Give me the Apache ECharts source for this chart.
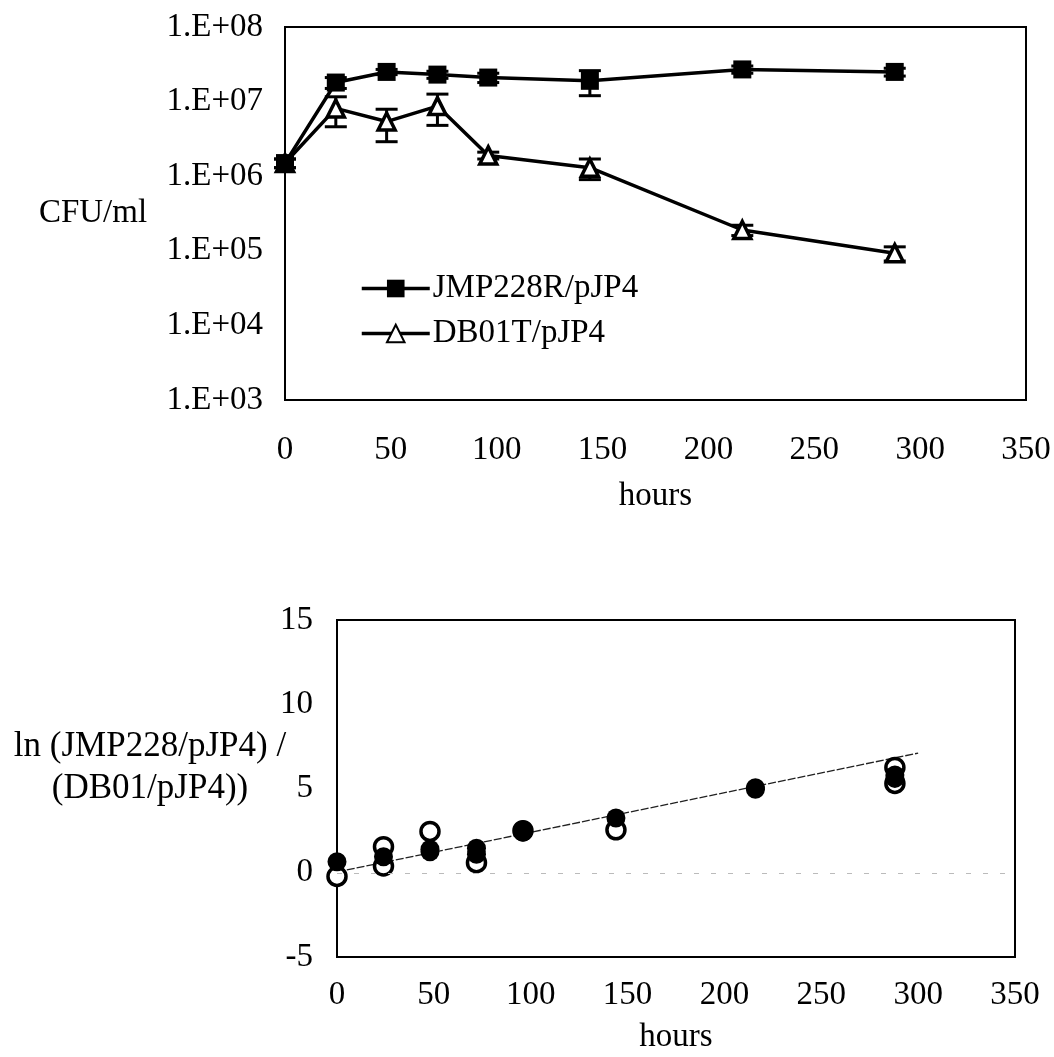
<!DOCTYPE html>
<html>
<head>
<meta charset="utf-8">
<script src="https://cdn.jsdelivr.net/npm/echarts@6/dist/echarts.min.js"></script>
<style>
body{margin:0;background:#fff;}
#content_main{width:1054px;height:1057px;}
</style>
</head>
<body>
<div id="content_main"></div>
<script type="text/javascript">
// top panel: CFU/ml over time
var hours = [0, 24, 48, 72, 96, 144, 216, 288];
var jmpMean = [1.5e6, 1.8e7, 2.5e7, 2.3e7, 2.1e7, 1.9e7, 2.7e7, 2.5e7];
var jmpSd = [2e5, 3e6, 2e6, 2.5e6, 3e6, 7e6, 3e6, 3e6];
var dbMean = [1.5e6, 8.1e6, 5.4e6, 8.7e6, 1.9e6, 1.3e6, 1.9e5, 9.3e4];
var dbSd = [2e5, 3.5e6, 2.5e6, 3.9e6, 2e5, 4e5, 3e4, 2e4];
var seriesNames = ['JMP228R/pJP4', 'DB01T/pJP4'];
var logTickLabels = ['1.E+03', '1.E+04', '1.E+05', '1.E+06', '1.E+07', '1.E+08'];

// bottom panel: ln ratio, two replicate sets
var filledPts = [[0, 0.65], [24, 0.95], [48, 1.25], [48, 1.4], [72, 1.1], [72, 1.45], [96, 2.4], [96, 2.55], [144, 3.25], [216, 4.95], [216, 5.05], [288, 5.6], [288, 5.8]];
var openPts = [[0, -0.22], [24, 0.4], [24, 1.55], [48, 2.45], [72, 0.6], [96, 2.5], [144, 2.55], [288, 5.3], [288, 6.25]];
var trendPts = [[0, 0.05], [300, 7.1]];

var font = 'Liberation Serif';
var txt = {fontFamily: font, fontSize: 33, color: '#000'};

function pairs(xs, ys) {
	return xs.map(function (x, i) { return [x, ys[i]]; });
}
function errData(xs, m, sd) {
	return xs.map(function (x, i) { return [x, m[i] - sd[i], m[i] + sd[i]]; });
}
function errRender(params, api) {
	var lo = api.coord([api.value(0), api.value(1)]);
	var hi = api.coord([api.value(0), api.value(2)]);
	var w = 11, st = {stroke: '#000', lineWidth: 3};
	return {type: 'group', children: [
		{type: 'line', shape: {x1: lo[0], y1: lo[1], x2: hi[0], y2: hi[1]}, style: st},
		{type: 'line', shape: {x1: lo[0] - w, y1: lo[1], x2: lo[0] + w, y2: lo[1]}, style: st},
		{type: 'line', shape: {x1: hi[0] - w, y1: hi[1], x2: hi[0] + w, y2: hi[1]}, style: st}
	]};
}

var myChart = echarts.init(document.getElementById('content_main'));
var option = {
	backgroundColor: '#fff',
	animation: false,
	textStyle: {fontFamily: font},
	legend: {
		data: seriesNames,
		orient: 'vertical',
		left: 360,
		top: 272,
		itemWidth: 68,
		itemHeight: 22,
		itemGap: 12,
		padding: 0,
		lineStyle: {width: 3.5, color: '#000'},
		textStyle: {fontFamily: font, fontSize: 33, color: '#000', padding: [0, 0, 0, -2]}
	},
	grid: [
		{left: 285, top: 27, width: 741, height: 373, show: true, borderColor: '#000', borderWidth: 2, backgroundColor: 'transparent'},
		{left: 337, top: 620, width: 678, height: 337, show: true, borderColor: '#000', borderWidth: 2, backgroundColor: 'transparent'}
	],
	xAxis: [
		{type: 'value', gridIndex: 0, min: 0, max: 350, interval: 50,
			name: 'hours', nameLocation: 'middle', nameGap: 80, nameTextStyle: txt,
			axisLine: {show: false}, axisTick: {show: false}, splitLine: {show: false},
			axisLabel: Object.assign({margin: 34}, txt)},
		{type: 'value', gridIndex: 1, min: 0, max: 350, interval: 50,
			name: 'hours', nameLocation: 'middle', nameGap: 64, nameTextStyle: txt,
			axisLine: {show: false}, axisTick: {show: false}, splitLine: {show: false},
			axisLabel: Object.assign({margin: 22}, txt)}
	],
	yAxis: [
		{type: 'log', gridIndex: 0, logBase: 10, min: 1e3, max: 1e8, interval: 1,
			name: 'CFU/ml', nameLocation: 'middle', nameRotate: 0, nameGap: 192, nameMoveOverlap: false,
			nameTextStyle: Object.assign({align: 'center', padding: [8, 0, 0, 0]}, txt),
			axisLine: {show: false}, axisTick: {show: false}, splitLine: {show: false},
			axisLabel: Object.assign({margin: 22, formatter: function (v) {
				return logTickLabels[Math.round(Math.log10(v)) - 3];
			}}, txt)},
		{type: 'value', gridIndex: 1, min: -5, max: 15, interval: 5,
			// trailing blank line lifts the two-line title
			name: 'ln (JMP228/pJP4) /\n(DB01/pJP4))\n ', nameLocation: 'middle', nameRotate: 0, nameGap: 187, nameMoveOverlap: false,
			nameTextStyle: {fontFamily: font, fontSize: 35, color: '#000', align: 'center', lineHeight: 42},
			axisLine: {show: false}, axisTick: {show: false}, splitLine: {show: false},
			axisLabel: Object.assign({margin: 24}, txt)}
	],
	series: [
		{type: 'custom', xAxisIndex: 0, yAxisIndex: 0, renderItem: errRender,
			data: errData(hours, jmpMean, jmpSd), z: 2},
		{type: 'custom', xAxisIndex: 0, yAxisIndex: 0, renderItem: errRender,
			data: errData(hours, dbMean, dbSd), z: 2},
		{name: seriesNames[0], type: 'line', xAxisIndex: 0, yAxisIndex: 0,
			data: pairs(hours, jmpMean), symbol: 'rect', symbolSize: 18,
			lineStyle: {color: '#000', width: 3.5}, itemStyle: {color: '#000'}, z: 4},
		{name: seriesNames[1], type: 'line', xAxisIndex: 0, yAxisIndex: 0,
			data: pairs(hours, dbMean), symbol: 'triangle', symbolSize: 17,
			lineStyle: {color: '#000', width: 3.5}, itemStyle: {color: '#fff', borderColor: '#000', borderWidth: 3.5}, z: 3},
		{type: 'line', xAxisIndex: 1, yAxisIndex: 1, data: trendPts, symbol: 'none',
			lineStyle: {color: '#222', width: 1.3, type: [8, 2]}, z: 2,
			markLine: {silent: true, symbol: 'none', label: {show: false},
				lineStyle: {color: '#bbb', width: 1, type: [5, 12]},
				data: [{yAxis: 0}]}},
		{type: 'scatter', xAxisIndex: 1, yAxisIndex: 1, data: openPts, symbolSize: 18,
			itemStyle: {color: '#fff', borderColor: '#000', borderWidth: 3.5, opacity: 1}, z: 3},
		{type: 'scatter', xAxisIndex: 1, yAxisIndex: 1, data: filledPts, symbolSize: 19,
			itemStyle: {color: '#000', opacity: 1}, z: 4}
	]
};
myChart.setOption(option);
</script>
</body>
</html>
